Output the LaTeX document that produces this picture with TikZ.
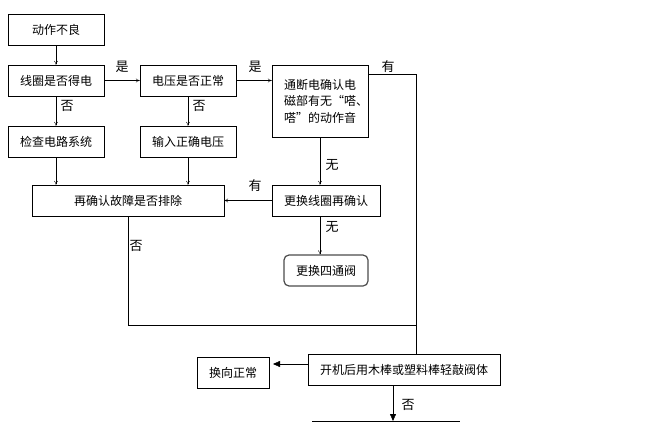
\documentclass[tikz,border=0pt]{standalone}
\usepackage{fontspec}
\setmainfont{Noto Sans CJK SC}
\usetikzlibrary{arrows.meta}
\begin{document}
\begin{tikzpicture}[x=1pt,y=-1pt,
    font=\fontsize{12}{16.5}\selectfont,
    box/.style={draw,thin,minimum width=96pt,minimum height=31pt,inner sep=0pt},
    roundbox/.style={box,draw=black!70,line width=1.2pt,rounded corners=5pt},
    lbl/.style={inner sep=0pt,font=\fontsize{13}{15}\selectfont},
    arr/.style={-{To[length=4pt,width=4pt]}},
    bigarr/.style={-{Triangle[length=7pt,width=6pt]}}]
  \useasboundingbox (0,0) rectangle (669,422);
  \draw
    (56,29.5) node[box] (bad){动作不良}
    (56,80.5) node[box] (coil){线圈是否得电}
    (188,80.5) node[box] (volt){电压是否正常}
    (320,101) node[box,minimum height=72pt,text width=72pt,align=left] (click){通断电确认电\\磁部有无“嗒、\\嗒”的动作音}
    (56,141.5) node[box] (circ){检查电路系统}
    (188,141.5) node[box] (fixv){输入正确电压}
    (128,200.5) node[box,minimum width=192pt] (check){再确认故障是否排除}
    (326,200.5) node[box,minimum width=108pt] (newcoil){更换线圈再确认}
    (326,270.5) node[roundbox,minimum width=84pt] (valve){更换四通阀}
    (404,369.5) node[box,minimum width=192pt] (tap){开机后用木棒或塑料棒轻敲阀体}
    (233,372.5) node[box,minimum width=72pt] (ok){换向正常};
  \coordinate (turn) at (416,74);
  \coordinate (joinL) at (128,325);
  \coordinate (joinR) at (416,325);
  \coordinate (okin) at (273,364);
  \coordinate (next) at (393,421);
  \coordinate (nextL) at (312,421);
  \coordinate (nextR) at (460,421);
  \begin{scope}[arr]
    \draw (bad) to (coil);
    \draw (coil) to (volt);
    \draw (volt.east) to (volt.east -| click.west);
    \draw (coil) to (circ);
    \draw (volt) to (fixv);
    \draw (circ.south) to (circ.south |- check.north);
    \draw (fixv.south) to (fixv.south |- check.north);
    \draw (click.south) to (click.south |- newcoil.north);
    \draw (newcoil) to (check);
    \draw (click.south |- newcoil.south) to (click.south |- valve.north);
  \end{scope}
  \begin{scope}[-]
    \draw (click.east |- turn) to (turn) to (turn |- tap.north);
    \draw (check.south) to (joinL) to (joinR);
    \draw (nextL) to (nextR);
  \end{scope}
  \begin{scope}[bigarr]
    \draw (tap.west |- okin) to (okin);
    \draw (tap.south -| next) to (next);
  \end{scope}
  \draw
    (122,67) node[lbl] (yes1){是}
    (255,67) node[lbl] (yes2){是}
    (388,67) node[lbl] (have1){有}
    (67,106) node[lbl] (no1){否}
    (199,106) node[lbl] (no2){否}
    (332,165) node[lbl] (none1){无}
    (255,186) node[lbl] (have2){有}
    (332,227) node[lbl] (none2){无}
    (136,246) node[lbl] (no3){否}
    (408,405) node[lbl] (no4){否};
\end{tikzpicture}
\end{document}
